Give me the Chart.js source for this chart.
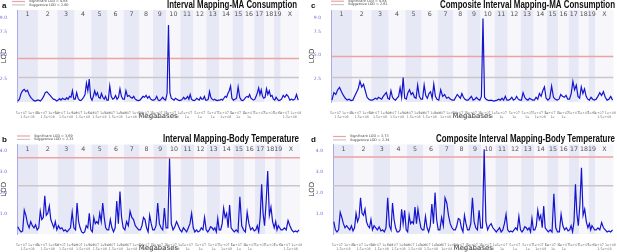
<!DOCTYPE html>
<html>
<head>
<meta charset="utf-8">
<script src="https://cdn.jsdelivr.net/npm/chart.js@4.4.1/dist/chart.umd.min.js"></script>
<style>
  body { margin: 0; background: #fff; width: 617px; height: 252px; position: relative; overflow: hidden; }
  canvas { position: absolute; }
</style>
</head>
<body>
<canvas id="pa" width="308" height="126" style="left:0;top:0"></canvas>
<canvas id="pc" width="309" height="126" style="left:308px;top:0"></canvas>
<canvas id="pb" width="308" height="126" style="left:0;top:126px"></canvas>
<canvas id="pd" width="309" height="126" style="left:308px;top:126px"></canvas>
<script>
const chromosomes = ['1','2','3','4','5','6','7','8','9','10','11','12','13','14','15','16','17','18','19','X']
const chrLengthMb = [195.5, 182.1, 160.0, 156.5, 151.8, 149.7, 145.4, 129.4, 124.6, 130.7, 122.1, 120.1, 120.4, 124.9, 104.0, 98.2, 95.0, 90.7, 61.4, 171.0]
const mbTickLabels = [
  ['5e+07 1e+08', '1.5e+08'], ['5e+07 1e+08', '1.5e+08'], ['5e+07 1e+08', '1.5e+08'],
  ['5e+07 1e+08', '1.5e+08'], ['5e+07 1e+08', '1.5e+08'], ['5e+07 1e+08', '1.5e+08'],
  ['5e+07 1e+08', '1e+08'], ['5e+07 1e', '1e+08'], ['5e+07 1e', '1e+08'], ['5e+07 1e', '1e+08'],
  ['5e+07', '1e'], ['5e+07', '1e'], ['5e+07', '1e'], ['5e+07 1e', '1e+08'], ['5e+07 1e', '1e'],
  ['5e+07', '1e'], ['5e+07', ''], ['5e+07', ''], ['5e+0', ''], ['5e+07 1e+08', '1.5e+08']
]

// LOD values read per chromosome, left to right
const lodIntervalMA = [
  [0.1, 0.3, 0.9, 1.2, 1.35, 1.1, 1.25, 0.8, 0.5, 0.3, 0.15, 0.1, 0.2],
  [0.2, 0.1, 0.3, 0.6, 1.0, 1.1, 0.9, 0.7, 0.5, 0.3, 0.25, 0.1],
  [0.2, 0.35, 0.2, 0.4, 0.3, 0.25, 0.45, 0.3, 0.6, 0.5, 1.2, 0.3],
  [0.3, 1.0, 0.4, 0.2, 0.15, 0.3, 0.5, 0.8, 2.0, 1.2, 2.45, 0.5],
  [0.2, 0.6, 1.2, 0.7, 1.0, 0.5, 0.4, 0.9, 0.5, 0.3, 0.6, 0.2],
  [0.2, 1.7, 0.6, 0.3, 0.4, 0.7, 0.3, 0.5, 1.4, 0.6, 0.3],
  [0.3, 1.2, 0.6, 0.7, 0.5, 0.4, 0.6, 0.3, 0.2, 0.15],
  [0.2, 0.4, 0.6, 0.5, 0.7, 0.4, 0.6, 0.3, 0.2],
  [0.2, 0.3, 0.6, 0.2, 0.15, 0.3, 0.5, 0.3, 0.2],
  [0.9, 8.2, 1.0, 0.4, 0.3, 0.2, 0.4, 0.3, 0.2, 0.15],
  [0.2, 0.3, 0.5, 0.3, 0.4, 0.6, 0.3, 0.8, 0.3, 0.2],
  [0.15, 0.2, 0.4, 0.3, 0.2, 0.5, 0.3, 0.3, 0.6, 0.2],
  [0.2, 0.3, 1.1, 0.5, 0.3, 0.2, 0.3, 0.2, 0.15, 0.2],
  [0.2, 0.3, 0.2, 0.4, 0.6, 0.5, 0.9, 1.2, 1.7, 0.4],
  [0.2, 0.3, 0.4, 1.6, 0.5, 0.2, 0.15],
  [0.3, 0.5, 0.6, 0.5, 0.8, 0.4, 0.3, 0.2],
  [0.3, 0.6, 1.0, 1.5, 0.8, 1.3, 0.6, 0.4],
  [0.5, 1.4, 0.8, 1.2, 0.6, 0.7, 0.3],
  [0.2, 0.5, 0.3, 0.15, 0.2],
  [0.3, 0.7, 0.5, 0.8, 0.6, 0.2, 0.3, 0.2, 0.3, 0.8, 0.2]
]
const lodCompositeMA = [
  [0.2, 1.0, 0.8, 1.3, 1.55, 1.1, 0.7, 0.4, 0.2, 0.3, 0.15],
  [0.2, 0.6, 1.0, 1.4, 2.2, 1.6, 1.9, 1.2, 0.5, 0.3, 0.2],
  [0.2, 0.3, 0.4, 0.3, 0.5, 0.4, 0.3, 0.6, 0.8, 1.0, 0.4],
  [0.3, 1.2, 0.5, 0.3, 0.2, 0.4, 0.6, 1.5, 0.5, 2.6, 0.4],
  [0.3, 1.0, 1.3, 0.8, 1.0, 0.5, 0.4, 1.8, 0.6, 0.3],
  [0.3, 1.8, 0.7, 0.4, 0.9, 1.1, 0.4, 1.9, 0.6, 0.3],
  [0.2, 1.3, 0.6, 0.8, 0.4, 0.5, 0.3, 0.2],
  [0.2, 0.5, 0.8, 0.6, 0.4, 0.9, 0.5, 0.3, 0.2],
  [0.2, 0.4, 0.6, 0.2, 0.3, 0.5, 0.3, 0.2],
  [0.6, 8.9, 0.5, 0.3, 0.2, 0.15, 0.2, 0.15, 0.1],
  [0.15, 0.2, 0.3, 0.2, 0.4, 0.2, 0.6, 0.2],
  [0.2, 0.3, 0.5, 0.2, 0.3, 0.6, 0.3, 0.2],
  [0.2, 1.0, 0.5, 0.3, 0.2, 0.4, 0.3, 0.2],
  [0.2, 0.5, 0.3, 0.9, 0.6, 1.2, 1.6, 0.4],
  [0.2, 0.4, 1.7, 0.5, 0.3, 0.2],
  [0.3, 0.8, 0.6, 0.5, 0.7, 0.3],
  [0.3, 0.9, 2.2, 1.3, 1.8, 0.6],
  [0.4, 1.6, 0.9, 1.4, 0.6, 0.3],
  [0.2, 0.5, 0.3, 0.2],
  [0.3, 0.6, 1.0, 0.7, 1.1, 0.5, 0.2, 0.3, 0.6, 0.2]
]
const lodIntervalBT = [
  [0.35, 0.2, 0.1, 0.15, 1.15, 0.9, 0.5, 0.3, 0.6, 0.4, 0.3, 0.45, 0.2],
  [0.3, 1.1, 0.7, 0.8, 1.85, 0.9, 1.0, 1.35, 0.7, 0.5, 0.3, 0.6, 0.2],
  [0.4, 0.25, 0.3, 0.15, 0.2, 0.1, 0.2, 0.3, 1.05, 0.3],
  [0.2, 1.5, 0.6, 0.3, 0.1, 0.05, 0.1, 0.4, 0.3, 1.0, 0.2],
  [0.1, 0.8, 0.5, 0.6, 0.5, 1.0, 0.6, 1.5, 0.8, 0.3, 0.2],
  [0.2, 0.7, 0.3, 0.1, 0.3, 1.6, 0.5, 2.05, 0.8, 0.3],
  [0.2, 0.6, 0.4, 1.1, 0.8, 0.7, 0.4, 0.3, 0.2],
  [0.2, 0.4, 0.8, 0.7, 0.3, 0.1, 0.9, 0.5, 0.2],
  [0.2, 0.4, 1.5, 0.5, 0.3, 0.2, 1.25, 0.3],
  [0.3, 3.65, 0.5, 0.2, 0.35, 0.6, 0.4, 0.2],
  [0.1, 0.3, 0.2, 0.1, 0.3, 0.5, 1.0, 0.3],
  [0.1, 0.2, 0.1, 0.15, 0.3, 0.2, 0.8, 0.2],
  [0.1, 0.2, 0.35, 0.3, 0.2, 0.3, 0.1, 0.75, 0.2],
  [0.2, 0.5, 1.25, 0.8, 1.0, 0.3, 1.4, 0.3, 0.2],
  [0.1, 0.2, 0.1, 1.8, 0.4, 0.2],
  [0.1, 1.05, 0.5, 0.2, 0.3, 0.15],
  [0.2, 0.4, 0.1, 0.8, 2.4, 1.0, 0.4],
  [1.5, 3.05, 0.9, 1.3, 0.6, 0.3],
  [0.6, 0.2, 0.4, 0.3, 0.2],
  [0.2, 0.3, 0.2, 0.65, 0.4, 0.2, 0.1, 0.15, 0.1, 0.2]
]
const lodCompositeBT = [
  [0.6, 0.2, 0.1, 0.2, 1.05, 0.8, 0.5, 0.3, 0.4, 0.3, 0.2, 0.4, 0.15],
  [0.3, 1.0, 0.6, 0.8, 1.75, 1.0, 0.9, 1.2, 0.6, 0.4, 0.3, 0.7, 0.2],
  [0.4, 0.3, 0.2, 0.35, 0.15, 0.2, 0.1, 0.3, 1.75, 0.4],
  [0.2, 1.5, 0.7, 0.3, 0.1, 0.1, 0.2, 1.2, 0.5, 1.15, 0.2],
  [0.1, 0.9, 0.5, 0.6, 0.5, 1.3, 0.5, 1.2, 0.7, 0.3, 0.2],
  [0.2, 0.85, 0.3, 0.1, 0.4, 1.45, 0.5, 2.0, 0.7, 0.2],
  [0.2, 0.8, 0.4, 1.75, 1.5, 0.9, 0.5, 0.3, 0.2],
  [0.2, 0.4, 0.75, 0.7, 0.3, 0.1, 0.9, 0.5, 0.2],
  [0.2, 0.5, 1.75, 0.6, 0.3, 0.2, 1.15, 0.3],
  [0.3, 4.1, 0.6, 0.2, 0.4, 0.5, 0.3, 0.2],
  [0.1, 0.2, 0.3, 0.1, 0.2, 0.5, 0.95, 0.2],
  [0.1, 0.15, 0.1, 0.2, 0.3, 0.2, 0.85, 0.2],
  [0.1, 0.2, 0.35, 0.3, 0.2, 0.3, 0.1, 0.75, 0.2],
  [0.2, 0.4, 1.15, 0.7, 0.9, 0.3, 1.35, 0.3, 0.2],
  [0.1, 0.2, 0.1, 1.95, 0.3, 0.1],
  [0.1, 0.95, 0.4, 0.2, 0.3, 0.15],
  [0.2, 0.4, 0.1, 0.6, 2.4, 1.0, 0.4],
  [1.4, 3.2, 0.9, 1.2, 0.6, 0.3],
  [0.5, 0.2, 0.4, 0.3, 0.2],
  [0.2, 0.3, 0.2, 0.55, 0.3, 0.2, 0.1, 0.15, 0.1, 0.2]
]
const maTicks = [2.5, 5.0, 7.5, 9.0]
const btTicks = [1.0, 2.0, 3.0, 4.0]

const totalMb = chrLengthMb.reduce((a, b) => a + b, 0)
const chrStarts = chrLengthMb.map((_, i) => chrLengthMb.slice(0, i).reduce((a, b) => a + b, 0))

function toPoints(lod) {
  const pts = []
  lod.forEach((vals, c) => {
    vals.forEach((v, j) => pts.push({ x: chrStarts[c] + (j + 0.5) * chrLengthMb[c] / vals.length, y: v }))
  })
  return pts
}

Chart.defaults.font.family = '"DejaVu Sans", sans-serif'

const decor = {
  id: 'decor',
  beforeDraw(chart, args, o) {
    const { ctx, chartArea: a } = chart
    const x = chart.scales.x
    chrLengthMb.forEach((len, i) => {
      const x0 = x.getPixelForValue(chrStarts[i])
      const x1 = x.getPixelForValue(chrStarts[i] + len)
      ctx.fillStyle = i % 2 ? '#f6f6fb' : '#e7e8f5'
      ctx.fillRect(x0, a.top, x1 - x0, a.bottom - a.top)
    })
  },
  beforeDatasetsDraw(chart, args, o) {
    const { ctx, chartArea: a } = chart
    const x = chart.scales.x
    ctx.save()
    ctx.fillStyle = '#555'
    ctx.font = '6.3px "DejaVu Sans"'
    ctx.textAlign = 'center'
    ctx.textBaseline = 'middle'
    chromosomes.forEach((c, i) => {
      ctx.fillText(c, x.getPixelForValue(chrStarts[i] + chrLengthMb[i] / 2), a.top + 4.5)
    })
    ctx.restore()
  },
  afterDraw(chart, args, o) {
    const ctx = chart.ctx
    ctx.save()
    ctx.textBaseline = 'middle'
    ctx.fillStyle = '#111'
    ctx.font = 'bold 8px "Liberation Sans"'
    ctx.textAlign = 'left'
    ctx.fillText(o.letter, o.letterX, o.titleY)
    // title, squeezed to the reference width
    ctx.font = 'bold 10px "Liberation Sans"'
    const w = ctx.measureText(o.title).width
    ctx.save()
    ctx.translate(o.titleRight, o.titleY)
    ctx.scale(o.titleWidth / w, 1)
    ctx.textAlign = 'right'
    ctx.fillText(o.title, 0, 0)
    ctx.restore()
    const rows = [['#eba3a3', 'Significant LOD = ' + o.sig.toFixed(2)], ['#cbc5cc', 'Suggestive LOD = ' + o.sug.toFixed(2)]]
    rows.forEach((r, i) => {
      const y = o.legendY + i * 3.4
      ctx.strokeStyle = r[0]
      ctx.lineWidth = 1.2
      ctx.beginPath()
      ctx.moveTo(o.legendX, y)
      ctx.lineTo(o.legendX + 13, y)
      ctx.stroke()
      ctx.fillStyle = '#444'
      ctx.font = '3.4px "DejaVu Sans"'
      ctx.fillText(r[1], o.legendX + 17, y)
    })
    ctx.restore()
  }
}

function makePanel(id, lod, sig, sug, yMax, yTicks, p) {
  new Chart(document.getElementById(id), {
    type: 'line',
    data: {
      datasets: [
        { data: toPoints(lod), borderColor: '#1414cf', borderWidth: 1.2, pointRadius: 0, tension: 0, order: 0 },
        { data: [{ x: 0, y: sig }, { x: totalMb, y: sig }], borderColor: '#eba3a3', borderWidth: 1.5, pointRadius: 0, order: 1 },
        { data: [{ x: 0, y: sug }, { x: totalMb, y: sug }], borderColor: '#cbc5cc', borderWidth: 1.5, pointRadius: 0, order: 2 }
      ]
    },
    options: {
      responsive: false,
      animation: false,
      layout: { padding: p.pad },
      scales: {
        x: {
          type: 'linear', min: 0, max: totalMb,
          afterFit(s) { s.height = 18 },
          afterBuildTicks(s) { s.ticks = chrStarts.map((st, i) => ({ value: st + chrLengthMb[i] / 2 })) },
          ticks: {
            autoSkip: false, maxRotation: 0, minRotation: 0, padding: 1,
            color: '#777', font: { size: 3.3, lineHeight: 1.25 },
            callback: (v, i) => mbTickLabels[i]
          },
          grid: { display: false },
          border: { display: false },
          title: { display: true, text: 'Megabases', color: '#444', font: { size: 7 }, padding: { top: 0, bottom: 0 } }
        },
        y: {
          min: 0, max: yMax,
          afterFit(s) { s.width = p.yw },
          afterBuildTicks(s) { s.ticks = yTicks.map(v => ({ value: v })) },
          ticks: { color: '#6b6bd8', font: { size: 4.5 }, padding: 2, callback: v => v.toFixed(1) },
          grid: { display: false },
          border: { display: true, color: '#a9a9ec', width: 1 },
          title: { display: true, text: 'LOD', color: '#333', font: { size: 7 }, padding: 0 }
        }
      },
      plugins: {
        legend: { display: false },
        tooltip: { enabled: false },
        decor: Object.assign({ sig, sug }, p.decor)
      }
    },
    plugins: [decor]
  })
}

makePanel('pa', lodIntervalMA, 4.64, 2.60, 9.8, maTicks, {
  pad: { top: 10, bottom: 6, left: 0, right: 9 }, yw: 17,
  decor: { letter: 'a', letterX: 2, title: 'Interval Mapping-MA Consumption', titleRight: 297, titleWidth: 130, titleY: 5.5, legendX: 12, legendY: 1.5 }
})
makePanel('pc', lodCompositeMA, 4.84, 2.61, 9.8, maTicks, {
  pad: { top: 10, bottom: 6, left: 0, right: 2 }, yw: 23,
  decor: { letter: 'c', letterX: 3, title: 'Composite Interval Mapping-MA Consumption', titleRight: 307, titleWidth: 175, titleY: 5.5, legendX: 23, legendY: 1.2 }
})
makePanel('pb', lodIntervalBT, 3.69, 2.33, 4.33, btTicks, {
  pad: { top: 18.5, bottom: 0, left: 0, right: 8 }, yw: 17,
  decor: { letter: 'b', letterX: 2, title: 'Interval Mapping-Body Temperature', titleRight: 299, titleWidth: 136, titleY: 13.5, legendX: 17, legendY: 10 }
})
makePanel('pd', lodCompositeBT, 3.73, 2.34, 4.33, btTicks, {
  pad: { top: 18.5, bottom: 0, left: 0, right: 1 }, yw: 25,
  decor: { letter: 'd', letterX: 3, title: 'Composite Interval Mapping-Body Temperature', titleRight: 307, titleWidth: 179, titleY: 13.5, legendX: 25, legendY: 10.5 }
})
</script>
</body>
</html>
